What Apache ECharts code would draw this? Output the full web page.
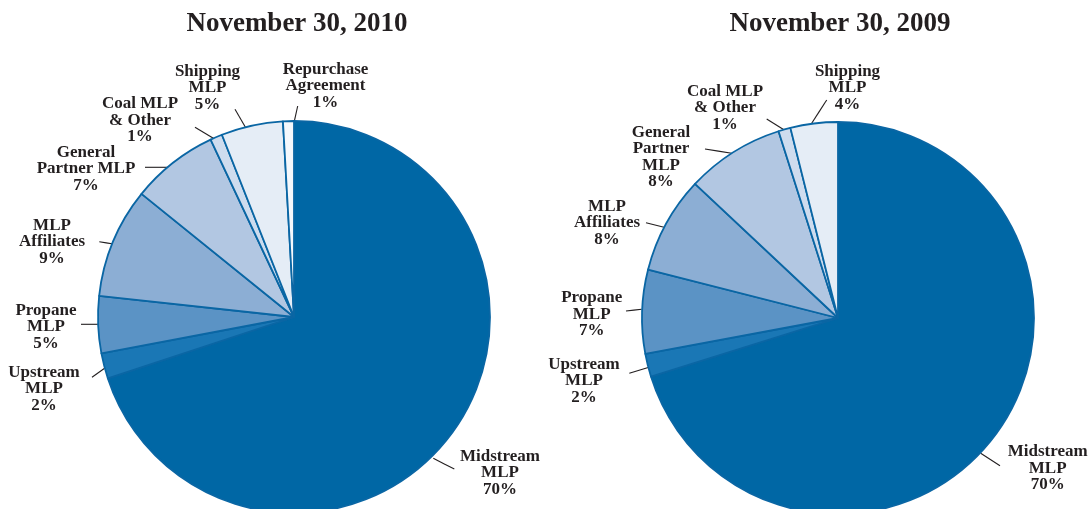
<!DOCTYPE html>
<html>
<head>
<meta charset="utf-8">
<script src="https://cdn.jsdelivr.net/npm/echarts@6/dist/echarts.min.js"></script>
<style>
html,body{margin:0;padding:0;background:#fff;}
#chart{width:1089px;height:509px;}
</style>
</head>
<body>
<div id="chart"></div>
<script>
// ---- data ----
const titles = ['November 30, 2010', 'November 30, 2009'];
const leftNames = ['Midstream\nMLP', 'Upstream\nMLP', 'Propane\nMLP', 'MLP\nAffiliates', 'General\nPartner MLP', 'Coal MLP\n& Other', 'Shipping\nMLP', 'Repurchase\nAgreement'];
const leftValues = [70.0, 2.1, 4.7, 9.1, 7.2, 1.0, 5.1, 0.9];
const leftPct = [70, 2, 5, 9, 7, 1, 5, 1];
const rightNames = ['Midstream\nMLP', 'Upstream\nMLP', 'Propane\nMLP', 'MLP\nAffiliates', 'General\nPartner\nMLP', 'Coal MLP\n& Other', 'Shipping\nMLP'];
const rightValues = [70.1, 1.9, 6.9, 8.0, 8.1, 1.0, 3.9];
const rightPct = [70, 2, 7, 8, 8, 1, 4];

// ---- styling / layout ----
const colors = ['#0067a5', '#1a77b5', '#5b93c5', '#8caed4', '#b2c7e2', '#cedcee', '#e5edf6', '#f5f8fc'];
const FONT = '"Liberation Serif", "Times New Roman", serif';
// label layout: [labelX, labelY, edgeX, edgeY, outerX, outerY]
const leftLabelLayout = [
  [500, 473, 433.3, 458.3, 454.3, 469],
  [44, 389, 106, 367.3, 92, 377.3],
  [46, 327, 100, 324.3, 81, 324.3],
  [52, 242, 113.3, 244, 99.3, 241.7],
  [86, 169, 170, 167.3, 145, 167.3],
  [140, 120.5, 215, 139.3, 195, 127.3],
  [207.5, 88, 246, 128.3, 235, 109.3],
  [325.5, 86, 294, 122.7, 297.7, 106]
];
const rightLabelLayout = [
  [1047.7, 468.5, 980.7, 453.3, 1000, 465.7],
  [584, 381, 649, 367.3, 629.3, 373.3],
  [591.7, 314.3, 641.7, 309.3, 626, 311],
  [607, 222.7, 664, 227.3, 646, 222.7],
  [661, 157, 731.7, 153.3, 705, 149],
  [725, 107.7, 784.3, 130, 766.7, 119],
  [847.5, 88, 811.7, 123.3, 826.7, 100]
];

function makeData(names, values, pct) {
  return names.map((n, i) => ({ name: n, value: values[i], pct: pct[i], itemStyle: { color: colors[i] } }));
}

function makeSeries(names, values, pct, center, layout) {
  return {
    type: 'pie',
    center: center,
    radius: 196,
    startAngle: 90,
    clockwise: true,
    avoidLabelOverlap: false,
    silent: true,
    animation: false,
    itemStyle: { borderColor: '#0a66a4', borderWidth: 1.8 },
    label: {
      show: true,
      position: 'outside',
      fontFamily: FONT,
      fontWeight: 'bold',
      fontSize: 17,
      lineHeight: 16.5,
      color: '#231f20',
      align: 'center',
      formatter: p => p.name + '\n' + p.data.pct + '%'
    },
    labelLine: { show: true, lineStyle: { color: '#231f20', width: 1.1 } },
    labelLayout: function (params) {
      const c = layout[params.dataIndex];
      return {
        x: c[0], y: c[1], align: 'center', verticalAlign: 'middle',
        labelLinePoints: [[c[2], c[3]], [(c[2] + c[4]) / 2, (c[3] + c[5]) / 2], [c[4], c[5]]]
      };
    },
    data: makeData(names, values, pct)
  };
}

const chart = echarts.init(document.getElementById('chart'));
chart.setOption({
  backgroundColor: '#ffffff',
  title: [
    { text: titles[0], left: 292, top: 6, textAlign: 'center',
      textStyle: { fontFamily: FONT, fontWeight: 'bold', fontSize: 27, color: '#231f20' } },
    { text: titles[1], left: 835, top: 6, textAlign: 'center',
      textStyle: { fontFamily: FONT, fontWeight: 'bold', fontSize: 27, color: '#231f20' } }
  ],
  series: [
    makeSeries(leftNames, leftValues, leftPct, [294, 317], leftLabelLayout),
    makeSeries(rightNames, rightValues, rightPct, [838, 318], rightLabelLayout)
  ]
});
</script>
</body>
</html>
